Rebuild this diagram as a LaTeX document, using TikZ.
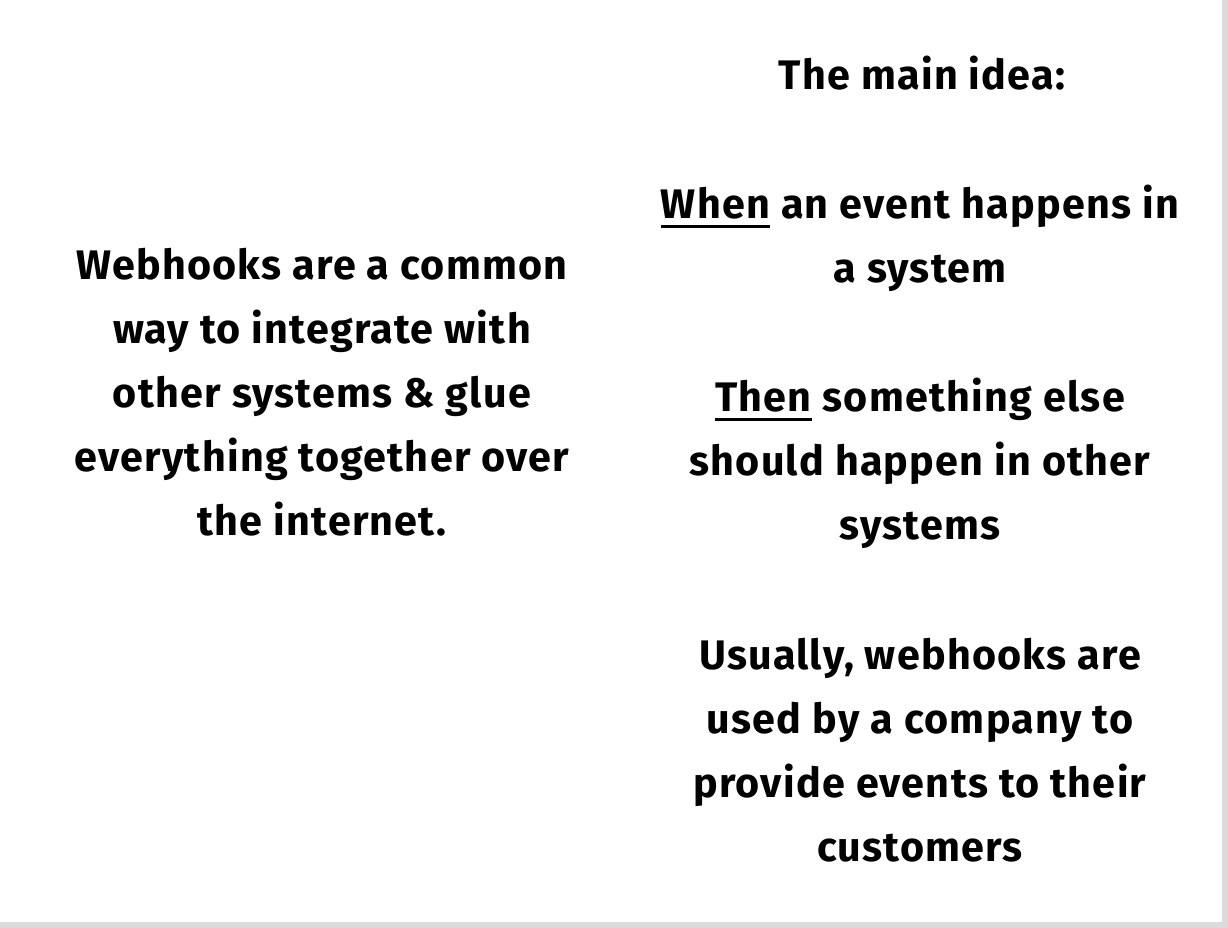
\documentclass[tikz,border=0pt]{standalone}
\usepackage{fontspec}
\setmainfont{Fira Sans}[LetterSpace=3]
\usepackage{tikz}
\usetikzlibrary{positioning}

\newcommand\ulword[1]{\setbox0\hbox{#1}\rlap{\rule[-5.5pt]{\wd0}{1.5pt}}\box0\relax}

\tikzset{
  slidetext/.style={align=center, inner sep=0pt, font=\bfseries\fontsize{23.5}{36.4}\selectfont}
}

\begin{document}
\begin{tikzpicture}[x=0.02cm, y=-0.02cm]

% Draw slide with its shadow
\fill[black!14] (0,0) rectangle (1228,928);
\fill[white] (0,0) rectangle (1222,922);
\useasboundingbox (0,0) rectangle (1228,928);

% Left column
\node[slidetext] (intro) at (322,392) {Webhooks are a common\\ way to integrate with\\ other systems \& glue\\ everything together over\\ the internet.};

% Right column
\node[slidetext] (idea) at (922,73) {The main idea:};
\node[slidetext] (when) at (920,238) {\ulword{When} an event happens in\\ a system};
\node[slidetext] (then) at (920,463) {\ulword{Then} something else\\ should happen in other\\ systems};
\node[slidetext] (usually) at (920,750) {Usually, webhooks are\\ used by a company to\\ provide events to their\\ customers};

\end{tikzpicture}
\end{document}
